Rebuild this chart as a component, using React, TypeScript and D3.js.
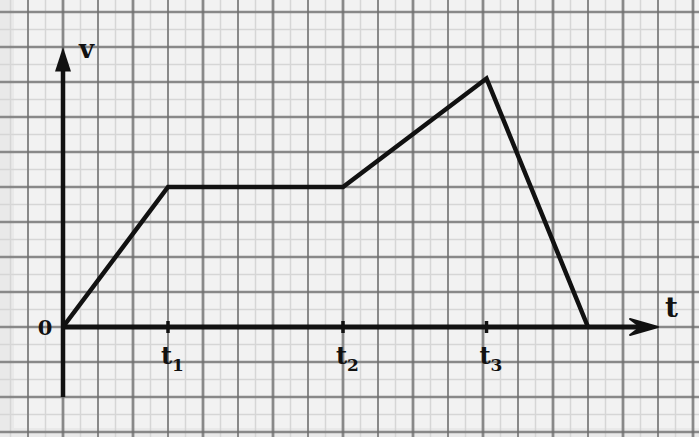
import React from 'react';
import * as d3 from 'd3';

// v(t) graph (1 unit = one big square)
const times = [0, 3, 8, 12.1, 15];
const speeds = [0, 4, 4, 7.1, 0];
const tickTimes = [3, 8, 12.1];
const tickNames = ['t', 't', 't'];
const tickSubs = ['1', '2', '3'];

const W = 699;
const H = 437;

const App = () => {
  const x = d3.scaleLinear().domain([0, 15]).range([63, 588]);
  const y = d3.scaleLinear().domain([0, 8]).range([327, 47]);

  const line = d3.line<number>()
    .x((_, i) => x(times[i]))
    .y(d => y(d));

  const majorX = d3.range(-1, 19);
  const majorY = d3.range(-3, 10);
  const minorX = d3.range(-2, 19.01, 0.5);
  const minorY = d3.range(-4, 10.01, 0.5);

  return (
    <>
      <style>{'body{margin:0}'}</style>
      <svg width={W} height={H} viewBox={`0 0 ${W} ${H}`} style={{ display: 'block', background: '#e9e9e9' }}>
        {/* paper */}
        <rect x={14} y={0} width={W - 14} height={428} fill="#f2f2f2" />

        {/* minor grid */}
        {minorX.map((u, i) => (
          <line key={`mx-${i}`} x1={x(u)} x2={x(u)} y1={0} y2={H} stroke="#d6d6d6" strokeWidth={1.5} />
        ))}
        {minorY.map((u, i) => (
          <line key={`my-${i}`} x1={0} x2={W} y1={y(u)} y2={y(u)} stroke="#d6d6d6" strokeWidth={1.5} />
        ))}

        {/* major grid */}
        {majorX.map(u => (
          <line key={`gx-${u}`} x1={x(u)} x2={x(u)} y1={0} y2={H} stroke="#6e6e6e" strokeWidth={u % 2 === 0 ? 2.8 : 2} opacity={0.75} />
        ))}
        {majorY.map(u => (
          <line key={`gy-${u}`} x1={0} x2={W} y1={y(u)} y2={y(u)} stroke="#6e6e6e" strokeWidth={2.4} opacity={0.75} />
        ))}

        {/* axes */}
        <line x1={x(0)} x2={x(0)} y1={397} y2={y(7.4)} stroke="#111" strokeWidth={4.5} />
        <path d={`M${x(0)},${y(8)} L${x(0) - 8},${y(7.3)} L${x(0) + 8},${y(7.3)} Z`} fill="#111" />
        <line x1={x(0)} x2={x(16.5)} y1={y(0)} y2={y(0)} stroke="#111" strokeWidth={5} />
        <path d={`M${x(17)},${y(0)} L${x(16.2)},${y(0) - 8} L${x(16.5)},${y(0)} L${x(16.2)},${y(0) + 8} Z`} fill="#111" stroke="#111" strokeWidth={2} strokeLinejoin="round" />

        {/* ticks */}
        {tickTimes.map(t => (
          <line key={`tk-${t}`} x1={x(t)} x2={x(t)} y1={y(0) - 6} y2={y(0) + 6} stroke="#111" strokeWidth={3.5} />
        ))}

        {/* v(t) */}
        <path d={line(speeds) || ''} fill="none" stroke="#111" strokeWidth={4.5} strokeLinejoin="miter" />

        {/* labels */}
        <g style={{ fontFamily: 'DejaVu Serif', fontWeight: 'bold' }} fill="#111">
          <text x={x(0) + 16} y={y(7.7)} fontSize={26}>v</text>
          <text x={x(17.2)} y={y(0.3)} fontSize={28}>t</text>
          <text x={x(0) - 18} y={y(0) + 8} fontSize={21} textAnchor="middle">0</text>
          {tickTimes.map((t, i) => (
            <text key={`tl-${t}`} x={x(t) - 7} y={y(-1.05)} fontSize={24}>
              {tickNames[i]}
              <tspan dy={7} fontSize={17}>{tickSubs[i]}</tspan>
            </text>
          ))}
        </g>
      </svg>
    </>
  );
};

export default App;
